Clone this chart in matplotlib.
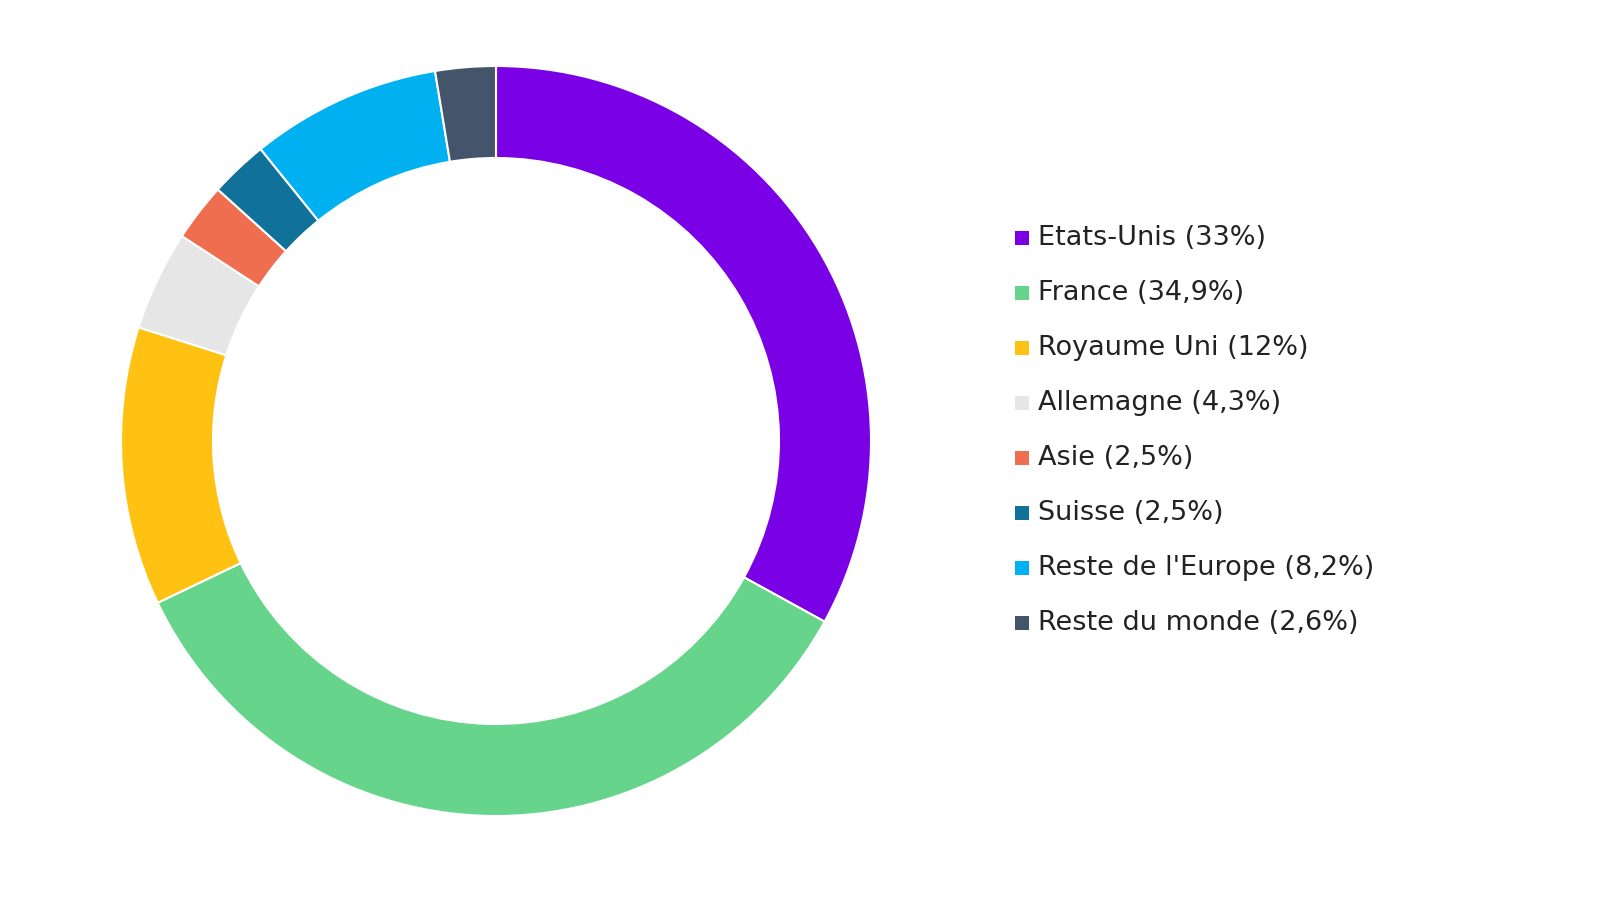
import matplotlib
matplotlib.use("Agg")
import matplotlib.pyplot as plt
from matplotlib.patches import Rectangle

labels = ["Etats-Unis", "France", "Royaume Uni", "Allemagne", "Asie", "Suisse", "Reste de l'Europe", "Reste du monde"]
pct_text = ["33%", "34,9%", "12%", "4,3%", "2,5%", "2,5%", "8,2%", "2,6%"]
values = [33, 34.9, 12, 4.3, 2.5, 2.5, 8.2, 2.6]
colors = ["#7A00E6", "#66D48A", "#FFC212", "#E6E6E6", "#F06E50", "#10719A", "#00B0F0", "#44546A"]

fig = plt.figure(figsize=(16, 9), dpi=100)
ax = fig.add_axes([(496 - 375) / 1600, (900 - 441 - 375) / 900, 750 / 1600, 750 / 900])
ax.pie(values, colors=colors, startangle=90, counterclock=False, radius=1.0,
       wedgeprops=dict(width=92 / 375, edgecolor="white", linewidth=1.5))
ax.set_xlim(-1, 1); ax.set_ylim(-1, 1); ax.set_aspect("equal"); ax.axis("off")

for i, (lab, p, c) in enumerate(zip(labels, pct_text, colors)):
    y = 238 + i * 55
    fig.patches.append(Rectangle(((1015) / 1600, (900 - y - 7) / 900), 14 / 1600, 14 / 900,
                                 transform=fig.transFigure, facecolor=c, edgecolor="none"))
    fig.text(1038 / 1600, (900 - y) / 900, f"{lab} ({p})", fontsize=19.5, color="#222222",
             va="center", ha="left", family="DejaVu Sans")

fig.savefig("out.png", dpi=100, facecolor="white")
